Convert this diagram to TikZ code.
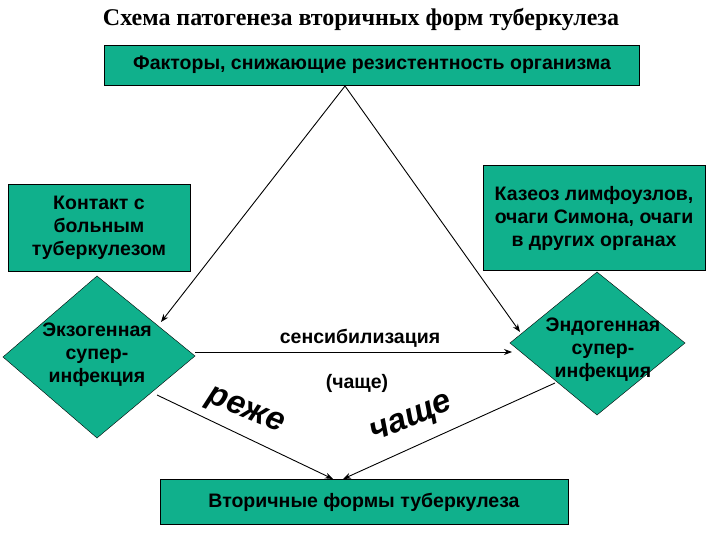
\documentclass[tikz,border=0pt]{standalone}
\usepackage{fontspec}
\setmainfont{Liberation Serif}
\newfontfamily\arialf{Liberation Sans}
\usetikzlibrary{arrows.meta}
\definecolor{gr}{RGB}{16,176,140}
\tikzset{
 box/.style={draw=black,fill=gr,font=\arialf\bfseries\fontsize{19.5}{23}\selectfont,align=center,inner sep=2pt},
 lab/.style={font=\arialf\bfseries\fontsize{19.5}{23}\selectfont,align=center},
 big/.style={font=\arialf\bfseries\itshape\fontsize{33}{35}\selectfont,inner sep=0pt},
 arr/.style={-{Stealth[length=8pt,width=6pt]},line width=0.9pt}
}
\begin{document}
\begin{tikzpicture}[x=1pt,y=-1pt]
\useasboundingbox (0,0) rectangle (720,540);
\node[font=\bfseries\fontsize{24}{26}\selectfont] (title) at (361,20) {Схема патогенеза вторичных форм туберкулеза};
\node[box,minimum width=535,minimum height=40] (top) at (372,65) {Факторы, снижающие резистентность организма};
\node[box,minimum width=182,minimum height=87] (cont) at (99,228) {Контакт с\\больным\\туберкулезом};
\node[box,minimum width=222,minimum height=105] (kaz) at (594,218) {Казеоз лимфоузлов,\\очаги Симона, очаги\\в других органах};
\path[draw=black,fill=gr] (97,276) -- (195,356) -- (97,438) -- (3,357) -- cycle;
\path[draw=black,fill=gr] (597,272) -- (685,343) -- (597,415) -- (510,343) -- cycle;
\coordinate (ldR) at (195,352);
\coordinate (ldB) at (157,395);
\coordinate (ldT) at (161,322);
\coordinate (rdL) at (512,352);
\coordinate (rdT) at (520,332);
\coordinate (rdB) at (555,383);
\node[lab] (exo) at (97,355) {Экзогенная\\супер-\\инфекция};
\node[lab] (endo) at (603,350) {Эндогенная\\супер-\\инфекция};
\node[box,minimum width=408,minimum height=45] (bot) at (364,502) {Вторичные формы туберкулеза};
\node[lab] (sens) at (360,338) {сенсибилизация};
\node[lab] (ch) at (357,383) {(чаще)};
\node[big,rotate=-22] (rez) at (245,412) {реже};
\node[big,rotate=22] (cha) at (412,420) {чаще};
\coordinate (apex) at (345,86);
\draw[arr] (apex) -- (ldT);
\draw[arr] (apex) -- (rdT);
\draw[arr] (ldR) -- (rdL);
\draw[arr] (ldB) -- (333,479);
\draw[arr] (rdB) -- (343,479);
\end{tikzpicture}
\end{document}
